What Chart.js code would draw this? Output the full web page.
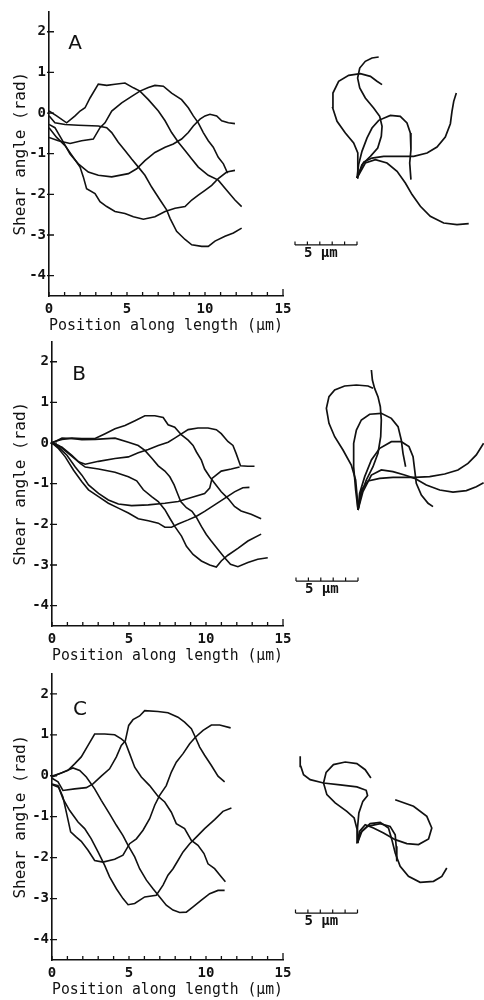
<!DOCTYPE html>
<html>
<head>
<meta charset="utf-8">
<script src="https://cdn.jsdelivr.net/npm/chart.js@4.4.1/dist/chart.umd.min.js"></script>
<style>
  html, body { margin: 0; background: #fff; }
  #fig { position: relative; width: 484px; height: 1000px; overflow: hidden; }
  #fig canvas { position: absolute; }
</style>
</head>
<body>
<div id="fig"></div>
<script>
// Shear angle (rad) vs position along length (um), one array of [x, y] per frame.
const shearA1 = [[0,0.05],[0.49,-0.07],[1.13,-0.24],[1.67,-0.07],[1.99,0.05],[2.31,0.13],[2.63,0.37],[3.16,0.71],[3.70,0.68],[4.23,0.71],[4.87,0.74],[5.41,0.62],[5.83,0.54],[6.37,0.33],[7.01,0.05],[7.44,-0.19],[7.86,-0.48],[8.29,-0.72],[8.72,-0.92],[9.15,-1.13],[9.57,-1.33],[10.21,-1.53],[10.85,-1.65],[11.39,-1.90],[11.92,-2.14],[12.35,-2.30]];
const shearA2 = [[0,-0.60],[0.60,-0.68],[1.35,-0.75],[2.09,-0.68],[2.84,-0.64],[3.27,-0.36],[3.59,-0.24],[4.02,0.05],[4.66,0.25],[5.30,0.41],[5.83,0.54],[6.37,0.63],[6.79,0.68],[7.33,0.66],[7.86,0.49],[8.50,0.33],[8.93,0.13],[9.25,-0.07],[9.57,-0.24],[9.89,-0.48],[10.21,-0.68],[10.53,-0.84],[10.85,-1.09],[11.18,-1.25],[11.45,-1.48]];
const shearA3 = [[0,-0.07],[0.38,-0.24],[1.03,-0.28],[1.88,-0.30],[3.16,-0.32],[3.70,-0.36],[4.02,-0.48],[4.44,-0.72],[4.87,-0.92],[5.30,-1.13],[5.73,-1.33],[6.15,-1.53],[6.58,-1.82],[7.12,-2.14],[7.54,-2.38],[7.76,-2.59],[8.18,-2.91],[8.72,-3.11],[9.15,-3.24],[9.79,-3.28],[10.21,-3.28],[10.64,-3.15],[11.28,-3.03],[11.82,-2.95],[12.35,-2.83]];
const shearA4 = [[0,-0.28],[0.38,-0.36],[0.81,-0.64],[1.35,-1.01],[1.88,-1.25],[2.52,-1.45],[3.16,-1.53],[4.02,-1.57],[5.09,-1.49],[5.62,-1.37],[6.15,-1.17],[6.79,-0.97],[7.44,-0.84],[7.97,-0.76],[8.50,-0.64],[8.93,-0.48],[9.25,-0.32],[9.68,-0.15],[10.0,-0.07],[10.32,-0.03],[10.75,-0.07],[11.07,-0.19],[11.50,-0.24],[11.92,-0.26]];
const shearA5 = [[0,-0.36],[0.49,-0.60],[1.03,-0.80],[1.56,-1.09],[1.99,-1.33],[2.20,-1.57],[2.41,-1.86],[2.95,-1.98],[3.27,-2.18],[3.70,-2.30],[4.23,-2.42],[4.87,-2.47],[5.41,-2.55],[6.05,-2.61],[6.79,-2.55],[7.44,-2.42],[8.08,-2.34],[8.72,-2.30],[9.15,-2.14],[9.57,-2.02],[10.0,-1.90],[10.43,-1.78],[10.85,-1.61],[11.39,-1.45],[11.92,-1.41]];

const shearB1 = [[0,0.02],[0.65,0.09],[1.29,0.12],[1.94,0.11],[2.80,0.11],[3.45,0.23],[4.09,0.35],[4.74,0.43],[5.39,0.55],[6.03,0.67],[6.68,0.67],[7.22,0.63],[7.54,0.45],[7.97,0.39],[8.41,0.20],[8.84,0.07],[9.16,-0.06],[9.38,-0.22],[9.70,-0.42],[9.91,-0.64],[10.24,-0.83],[10.56,-0.99],[10.99,-1.20],[11.42,-1.36],[11.85,-1.56],[12.28,-1.67],[12.93,-1.75],[13.58,-1.86]];
const shearB2 = [[0,0],[0.43,-0.06],[1.08,-0.26],[1.72,-0.46],[2.16,-0.52],[3.02,-0.45],[4.09,-0.38],[4.96,-0.34],[5.60,-0.24],[6.25,-0.16],[6.90,-0.06],[7.54,0.02],[7.97,0.12],[8.30,0.20],[8.84,0.33],[9.48,0.37],[10.13,0.37],[10.67,0.33],[10.99,0.23],[11.42,0.04],[11.75,-0.06],[11.96,-0.26],[12.24,-0.56],[12.72,-0.57],[13.15,-0.57]];
const shearB3 = [[0,0],[0.65,0.12],[1.29,0.11],[1.94,0.08],[2.80,0.09],[4.09,0.12],[4.96,0.02],[5.60,-0.06],[6.03,-0.18],[6.47,-0.37],[6.90,-0.56],[7.33,-0.69],[7.65,-0.83],[7.93,-1.03],[8.15,-1.24],[8.36,-1.44],[8.73,-1.59],[9.09,-1.68],[9.38,-1.83],[9.70,-2.05],[10.02,-2.25],[10.34,-2.41],[10.78,-2.62],[11.21,-2.82],[11.59,-2.98],[12.07,-3.04],[12.72,-2.94],[13.36,-2.86],[14.01,-2.82]];
const shearB4 = [[0,0],[0.65,-0.10],[1.29,-0.30],[1.83,-0.50],[2.16,-0.59],[3.02,-0.64],[4.09,-0.72],[4.96,-0.83],[5.50,-0.93],[5.93,-1.15],[6.47,-1.32],[6.90,-1.44],[7.33,-1.64],[7.65,-1.85],[7.97,-2.05],[8.41,-2.29],[8.73,-2.54],[9.16,-2.74],[9.70,-2.90],[10.24,-3.0],[10.67,-3.05],[10.99,-2.90],[11.42,-2.76],[12.07,-2.59],[12.72,-2.41],[13.58,-2.24]];
const shearB5 = [[0,0],[0.43,-0.10],[0.97,-0.30],[1.51,-0.59],[1.94,-0.79],[2.37,-1.03],[3.02,-1.24],[3.66,-1.40],[4.31,-1.50],[5.17,-1.54],[6.25,-1.52],[7.33,-1.48],[8.19,-1.44],[9.05,-1.34],[9.91,-1.24],[10.24,-1.11],[10.39,-0.87],[10.99,-0.69],[11.64,-0.64],[12.18,-0.59]];
const shearB6 = [[0,0],[0.43,-0.14],[0.86,-0.34],[1.40,-0.67],[1.94,-0.95],[2.37,-1.15],[3.02,-1.32],[3.66,-1.48],[4.31,-1.60],[4.96,-1.72],[5.60,-1.86],[6.25,-1.91],[6.90,-1.97],[7.33,-2.07],[7.76,-2.07],[8.19,-1.99],[8.84,-1.89],[9.38,-1.80],[9.91,-1.68],[10.56,-1.52],[11.21,-1.36],[11.85,-1.20],[12.39,-1.10],[12.82,-1.09]];

const shearC1 = [[0,-0.01],[0.61,0.07],[1.04,0.13],[1.47,0.29],[1.90,0.46],[2.34,0.74],[2.77,1.02],[3.42,1.02],[4.07,1.0],[4.50,0.90],[4.76,0.82],[5.04,0.54],[5.37,0.21],[5.80,-0.03],[6.34,-0.24],[6.88,-0.50],[7.32,-0.64],[7.75,-0.89],[8.07,-1.17],[8.61,-1.29],[9.05,-1.58],[9.48,-1.70],[9.87,-1.90],[10.13,-2.15],[10.56,-2.27],[11.0,-2.47],[11.26,-2.59]];
const shearC2 = [[0,-0.06],[0.39,-0.15],[0.71,-0.36],[1.47,-0.32],[2.23,-0.29],[2.66,-0.20],[3.20,-0.01],[3.74,0.17],[4.18,0.46],[4.50,0.74],[4.76,0.85],[4.98,1.23],[5.26,1.37],[5.69,1.46],[6.02,1.59],[6.88,1.57],[7.53,1.54],[8.18,1.43],[8.61,1.31],[9.05,1.15],[9.31,0.94],[9.59,0.70],[9.91,0.50],[10.35,0.25],[10.78,-0.01],[11.21,-0.15]];
const shearC3 = [[0,-0.20],[0.39,-0.24],[0.71,-0.52],[0.93,-0.89],[1.21,-1.37],[1.58,-1.50],[1.90,-1.60],[2.34,-1.82],[2.77,-2.07],[3.31,-2.11],[4.07,-2.04],[4.61,-1.94],[5.04,-1.66],[5.48,-1.54],[5.91,-1.33],[6.34,-1.05],[6.67,-0.72],[6.99,-0.48],[7.42,-0.24],[7.75,0.09],[8.07,0.33],[8.51,0.54],[8.94,0.78],[9.31,0.94],[9.81,1.11],[10.35,1.24],[10.89,1.24],[11.60,1.17]];
const shearC4 = [[0,-0.22],[0.43,-0.28],[0.71,-0.56],[1.15,-0.85],[1.69,-1.13],[2.12,-1.29],[2.55,-1.54],[2.99,-1.86],[3.42,-2.19],[3.74,-2.47],[4.18,-2.76],[4.61,-3.0],[4.94,-3.15],[5.37,-3.12],[6.02,-2.96],[6.77,-2.92],[7.21,-2.67],[7.53,-2.43],[7.86,-2.27],[8.18,-2.07],[8.51,-1.86],[8.94,-1.66],[9.37,-1.50],[9.91,-1.29],[10.56,-1.07],[11.10,-0.87],[11.65,-0.79]];
const shearC5 = [[0,-0.03],[0.61,0.07],[1.36,0.19],[1.80,0.13],[2.23,-0.03],[2.77,-0.32],[3.20,-0.60],[3.74,-0.93],[4.18,-1.21],[4.61,-1.46],[4.94,-1.70],[5.37,-1.98],[5.69,-2.27],[6.13,-2.55],[6.56,-2.76],[6.99,-2.96],[7.42,-3.16],[7.86,-3.28],[8.29,-3.34],[8.72,-3.33],[9.16,-3.20],[9.70,-3.04],[10.24,-2.88],[10.78,-2.80],[11.21,-2.80]];

// Flagellar outlines, [x, y] in um from the common base point.
const shapeA1 = [[0,0],[0.08,0.94],[0.05,2.02],[-0.27,2.82],[-0.94,3.63],[-1.61,4.57],[-1.96,5.65],[-1.94,6.85],[-1.48,7.80],[-0.67,8.28],[0.27,8.41],[1.08,8.20],[1.61,7.80],[2.02,7.53]];
const shapeA2 = [[0,0],[0.13,1.08],[0.40,2.15],[0.81,3.23],[1.21,4.03],[1.75,4.65],[2.69,5.05],[3.49,4.97],[4.03,4.44],[4.30,3.63],[4.35,2.28],[4.25,1.21],[4.35,-0.13]];
const shapeA3 = [[0,0],[0.40,1.08],[1.08,1.75],[1.67,2.42],[1.96,3.36],[2.02,4.17],[1.83,4.97],[1.34,5.65],[0.67,6.45],[0.22,7.26],[0.05,8.06],[0.22,8.87],[0.67,9.41],[1.21,9.68],[1.75,9.76]];
const shapeA4 = [[0,0],[0.54,1.29],[1.21,1.61],[2.15,1.75],[3.23,1.75],[4.57,1.75],[5.65,2.02],[6.45,2.50],[7.12,3.31],[7.53,4.38],[7.66,5.38],[7.80,6.18],[8.01,6.85]];
const shapeA5 = [[0,0],[0.67,1.21],[1.48,1.48],[2.42,1.21],[3.23,0.54],[3.90,-0.40],[4.44,-1.34],[5.11,-2.28],[5.91,-3.09],[6.99,-3.63],[8.06,-3.76],[9.01,-3.68]];

const shapeB1 = [[0,0],[-0.08,1.21],[-0.19,2.42],[-0.54,3.63],[-1.21,4.84],[-1.88,5.91],[-2.34,6.99],[-2.55,8.20],[-2.34,9.14],[-1.88,9.68],[-1.08,10.0],[-0.13,10.08],[0.81,10.0],[1.21,9.81]];
const shapeB2 = [[0,0],[0.27,1.34],[0.67,2.42],[1.21,3.49],[1.61,4.57],[1.83,5.91],[1.88,7.26],[1.80,8.33],[1.61,9.14],[1.34,9.81],[1.16,10.48],[1.08,11.29]];
const shapeB3 = [[0,0],[-0.19,1.61],[-0.35,3.49],[-0.35,5.38],[-0.13,6.45],[0.27,7.26],[0.94,7.72],[1.88,7.80],[2.69,7.39],[3.23,6.72],[3.49,5.65],[3.63,4.57],[3.84,3.49]];
const shapeB4 = [[0,0],[0.13,1.34],[0.54,2.69],[1.08,4.03],[1.75,4.97],[2.69,5.51],[3.49,5.51],[4.11,5.11],[4.44,4.30],[4.57,3.23],[4.70,2.15],[5.11,1.21],[5.65,0.54],[6.05,0.27]];
const shapeB5 = [[0,0],[0.27,1.61],[0.81,2.34],[1.75,2.55],[2.82,2.63],[4.57,2.63],[5.78,2.69],[6.99,2.90],[8.06,3.23],[8.87,3.76],[9.54,4.44],[10.13,5.38]];
const shapeB6 = [[0,0],[0.40,1.48],[1.08,2.82],[1.88,3.23],[2.82,3.09],[3.76,2.82],[4.57,2.55],[5.51,2.02],[6.59,1.61],[7.66,1.45],[8.74,1.56],[9.54,1.88],[10.13,2.20]];

const shapeC1 = [[0,0],[-0.03,1.08],[-0.27,2.02],[-0.86,2.55],[-1.80,3.23],[-2.47,3.90],[-2.74,4.84],[-2.53,5.70],[-1.94,6.32],[-0.99,6.53],[-0.05,6.40],[0.62,5.91],[1.08,5.24]];
const shapeC2 = [[0,0],[0,1.21],[0.11,2.42],[0.43,3.36],[0.81,3.82],[0.70,4.25],[-0.05,4.52],[-1.40,4.68],[-2.74,4.84],[-3.82,5.11],[-4.35,5.51],[-4.57,6.18],[-4.62,6.99]];
const shapeC3 = [[0,0],[0.22,0.81],[0.81,1.34],[1.83,1.56],[2.63,1.34],[3.04,0.67],[3.12,-0.27],[3.17,-1.48]];
const shapeC4 = [[0,0],[0.35,0.94],[1.02,1.56],[1.83,1.67],[2.50,1.21],[2.77,0.27],[3.04,-0.81],[3.44,-1.88],[4.11,-2.69],[5.05,-3.17],[6.13,-3.09],[6.80,-2.69],[7.20,-2.02]];
const shapeC5 = [[0,0],[0.16,0.94],[0.62,1.48],[1.29,1.21],[2.10,0.81],[3.04,0.27],[3.98,-0.05],[4.92,-0.13],[5.73,0.32],[5.99,1.21],[5.59,2.15],[4.52,2.96],[3.04,3.49]];

// Axis ticks and scale bar
const xTickLabels = [0, 5, 10, 15];
const xTickMarks = [0,1,2,3,4,5,6,7,8,9,10,11,12,13,14,15];
const yTickLabels = [-4, -3, -2, -1, 0, 1, 2];
const scaleBarTicks = [0, 1, 2, 3, 4, 5];   // um
const scaleBarLabel = "5 μm";

const MONO = "'DejaVu Sans Mono', monospace";
const INK = "#111";
const PX_PER_UM = 12.4;

const panels = [
  { letter: "A", top: 0,   padTop: 8,  height: 336, axisW: 49, letterAt: [75, 44],
    curves: [shearA1, shearA2, shearA3, shearA4, shearA5],
    shapes: [shapeA1, shapeA2, shapeA3, shapeA4, shapeA5], base: [73, 178], barY: -5.4 },
  { letter: "B", top: 330, padTop: 10, height: 336, axisW: 52, letterAt: [79, 45],
    curves: [shearB1, shearB2, shearB3, shearB4, shearB5, shearB6],
    shapes: [shapeB1, shapeB2, shapeB3, shapeB4, shapeB5, shapeB6], base: [74, 180], barY: -5.73 },
  { letter: "C", top: 662, padTop: 11, height: 338, axisW: 52, letterAt: [80, 48],
    curves: [shearC1, shearC2, shearC3, shearC4, shearC5],
    shapes: [shapeC1, shapeC2, shapeC3, shapeC4, shapeC5], base: [73.5, 181], barY: -5.65 },
];

const fig = document.getElementById("fig");

function addCanvas(left, top, w, h) {
  const c = document.createElement("canvas");
  c.width = w; c.height = h;
  c.style.left = left + "px"; c.style.top = top + "px";
  c.style.width = w + "px"; c.style.height = h + "px";
  fig.appendChild(c);
  return c;
}

function lineSet(points, width) {
  return {
    data: points.map(([x, y]) => ({ x, y })),
    showLine: true, borderColor: INK, borderWidth: width,
    pointRadius: 0, tension: 0, fill: false, spanGaps: false,
  };
}

// inward tick marks on both axes + panel letter
const innerTicks = {
  id: "innerTicks",
  afterDraw(chart, args, o) {
    const { ctx, chartArea: a, scales: { x, y } } = chart;
    ctx.save();
    ctx.strokeStyle = INK; ctx.lineWidth = 1.3;
    ctx.beginPath();
    xTickMarks.forEach(v => {
      const px = x.getPixelForValue(v);
      const len = v === 15 ? 7 : 4;
      ctx.moveTo(px, a.bottom); ctx.lineTo(px, a.bottom - len);
    });
    yTickLabels.forEach(v => {
      const py = y.getPixelForValue(v);
      ctx.moveTo(a.left - 2, py); ctx.lineTo(a.left + 5, py);
    });
    ctx.stroke();
    ctx.fillStyle = INK;
    ctx.font = "20px 'DejaVu Sans'";
    ctx.textAlign = "center"; ctx.textBaseline = "middle";
    ctx.fillText(o.letter, o.at[0], o.at[1]);
    ctx.restore();
  },
};

function shearChart(p) {
  const canvas = addCanvas(0, p.top, 300, p.height);
  return new Chart(canvas, {
    type: "scatter",
    data: { datasets: p.curves.map(c => lineSet(c, 1.6)) },
    options: {
      responsive: false, animation: false,
      layout: { padding: { top: p.padTop, right: 17, left: 0, bottom: 0 } },
      plugins: { legend: { display: false }, tooltip: { enabled: false },
                 innerTicks: { letter: p.letter, at: p.letterAt } },
      scales: {
        x: {
          type: "linear", min: 0, max: 15,
          afterFit(s) { s.height = 40; },
          afterBuildTicks(s) { s.ticks = xTickLabels.map(v => ({ value: v })); },
          grid: { display: false, drawTicks: false },
          border: { display: true, color: INK, width: 1.6 },
          ticks: { color: INK, padding: 5, maxRotation: 0, autoSkip: false,
                   font: { family: MONO, size: 14, weight: "bold" } },
          title: { display: true, text: "Position along length (μm)", color: INK,
                   font: { family: MONO, size: 15.5 }, padding: { top: 0, bottom: 1 } },
        },
        y: {
          type: "linear", min: -4.5, max: 2.5,
          afterFit(s) { s.width = p.axisW; },
          afterBuildTicks(s) { s.ticks = yTickLabels.map(v => ({ value: v })); },
          grid: { display: false, drawTicks: false },
          border: { display: true, color: INK, width: 1.6 },
          ticks: { color: INK, padding: 3, autoSkip: false,
                   font: { family: MONO, size: 14, weight: "bold" } },
          title: { display: true, text: "Shear angle (rad)", color: INK,
                   font: { family: MONO, size: 16 }, padding: { top: 11, bottom: 0 } },
        },
      },
    },
    plugins: [innerTicks],
  });
}

const barLabel = {
  id: "barLabel",
  afterDraw(chart, args, o) {
    const { ctx, scales: { x, y } } = chart;
    ctx.save();
    ctx.fillStyle = INK;
    ctx.font = "bold 14px " + MONO;
    ctx.textAlign = "left"; ctx.textBaseline = "alphabetic";
    ctx.fillText(scaleBarLabel, x.getPixelForValue(-scaleBarTicks[scaleBarTicks.length - 1]) + 9,
                 y.getPixelForValue(o.barY) + 12);
    ctx.restore();
  },
};

function shapeChart(p) {
  const W = 200, H = 320;
  const canvas = addCanvas(284, p.top, W, H);
  const [bx, by] = p.base;
  const span = scaleBarTicks[scaleBarTicks.length - 1];
  const bar = [[-span, p.barY], [0, p.barY]];
  const ticks = [];
  scaleBarTicks.forEach(t => {
    ticks.push([t - span, p.barY], [t - span, p.barY + 0.28], [t - span, null]);
  });
  return new Chart(canvas, {
    type: "scatter",
    data: { datasets: [...p.shapes.map(s => lineSet(s, 1.7)), lineSet(bar, 1.3), lineSet(ticks, 1.2)] },
    options: {
      responsive: false, animation: false,
      layout: { padding: 0 },
      plugins: { legend: { display: false }, tooltip: { enabled: false }, barLabel: { barY: p.barY } },
      scales: {
        x: { type: "linear", display: false, min: -bx / PX_PER_UM, max: (W - bx) / PX_PER_UM },
        y: { type: "linear", display: false, min: (by - H) / PX_PER_UM, max: by / PX_PER_UM },
      },
    },
    plugins: [barLabel],
  });
}

panels.forEach(p => { shearChart(p); shapeChart(p); });
</script>
</body>
</html>
